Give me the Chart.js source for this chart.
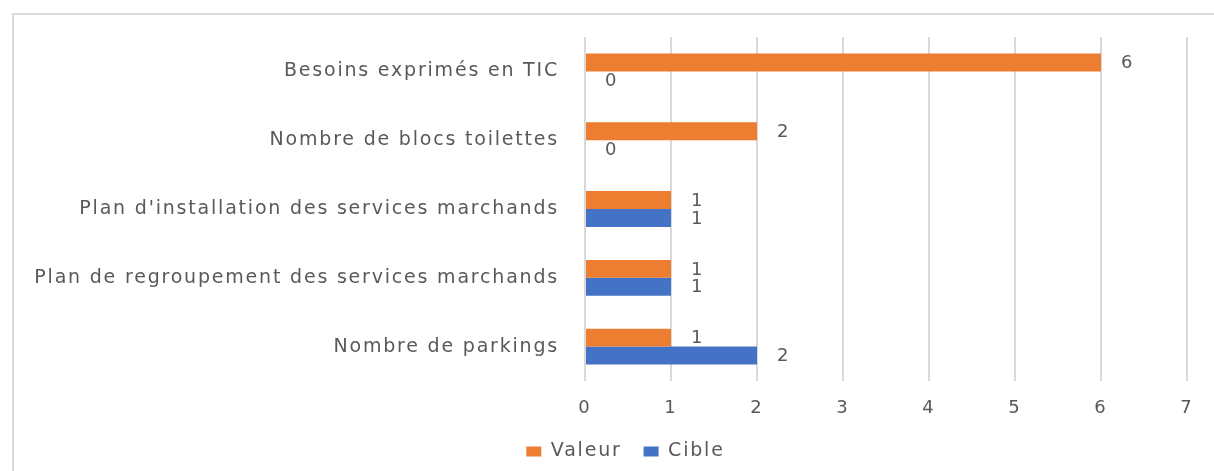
<!DOCTYPE html>
<html>
<head>
<meta charset="utf-8">
<script src="https://cdn.jsdelivr.net/npm/chart.js@4.4.0/dist/chart.umd.min.js"></script>
<style>
  html, body { margin: 0; padding: 0; background: #fff; overflow: hidden; }
  #wrap { position: relative; width: 1214px; height: 471px; overflow: hidden; }
  #frame { position: absolute; left: 12px; top: 13px; right: 0; bottom: 0; border-left: 2px solid #d9d9d9; border-top: 2px solid #d9d9d9; }
  canvas { position: absolute; left: 0; top: 0; }
</style>
</head>
<body>
<div id="wrap">
  <div id="frame"></div>
  <canvas id="c" width="1214" height="471"></canvas>
</div>
<script>
const categories = [
  "Besoins exprimés en TIC",
  "Nombre de blocs toilettes",
  "Plan d'installation des services marchands",
  "Plan de regroupement des services marchands",
  "Nombre de parkings"
];
const valeur = [6, 2, 1, 1, 1];
const cible = [0, 0, 1, 1, 2];
const xTicks = [0, 1, 2, 3, 4, 5, 6, 7];

const FONT = "'DejaVu Sans', 'Open Sans', sans-serif";
const FSIZE = 19;
const NSIZE = 18;
const SPACING = '1.8px';
const TEXT = '#595959';

const spacingPlugin = {
  id: 'spacing',
  beforeUpdate(chart) { chart.ctx.letterSpacing = SPACING; },
  beforeLayout(chart) { chart.ctx.letterSpacing = SPACING; },
  afterLayout(chart) {
    const l = chart.legend;
    if (l) { l.left += 32; l.right += 32; }
  },
  beforeDraw(chart) { chart.ctx.letterSpacing = SPACING; }
};

const valueLabels = {
  id: 'valueLabels',
  afterDatasetsDraw(chart) {
    const ctx = chart.ctx;
    ctx.save();
    ctx.font = NSIZE + 'px ' + FONT;
    ctx.fillStyle = TEXT;
    ctx.textAlign = 'left';
    ctx.textBaseline = 'middle';
    chart.data.datasets.forEach((ds, di) => {
      const meta = chart.getDatasetMeta(di);
      meta.data.forEach((bar, i) => {
        ctx.fillText(String(ds.data[i]), bar.x + 20, bar.y + 1);
      });
    });
    ctx.restore();
  }
};

new Chart(document.getElementById('c'), {
  type: 'bar',
  data: {
    labels: categories,
    datasets: [
      { label: 'Valeur', data: valeur, backgroundColor: '#ED7D31', borderWidth: 0 },
      { label: 'Cible', data: cible, backgroundColor: '#4472C4', borderWidth: 0 }
    ]
  },
  options: {
    indexAxis: 'y',
    responsive: false,
    animation: false,
    devicePixelRatio: 1,
    layout: { padding: { top: 37, right: 27, left: 0, bottom: 0 } },
    categoryPercentage: 0.52,
    barPercentage: 1.0,
    scales: {
      x: {
        min: 0, max: 7,
        afterBuildTicks(scale) { scale.ticks = xTicks.map(v => ({ value: v })); },
        afterFit(scale) { scale.height = 39; },
        grid: { color: '#d9d9d9', lineWidth: 2, drawTicks: false },
        border: { display: false },
        ticks: { color: TEXT, font: { family: FONT, size: NSIZE }, padding: 17 }
      },
      y: {
        afterFit(scale) { scale.width = 585; },
        grid: { display: false },
        border: { display: false },
        ticks: { color: TEXT, font: { family: FONT, size: FSIZE }, padding: 18 }
      }
    },
    plugins: {
      legend: {
        position: 'bottom',
        labels: {
          color: TEXT,
          font: { family: FONT, size: FSIZE },
          boxWidth: 15, boxHeight: 10, padding: 22
        }
      },
      tooltip: { enabled: false },
      title: { display: false }
    }
  },
  plugins: [spacingPlugin, valueLabels]
});
</script>
</body>
</html>
